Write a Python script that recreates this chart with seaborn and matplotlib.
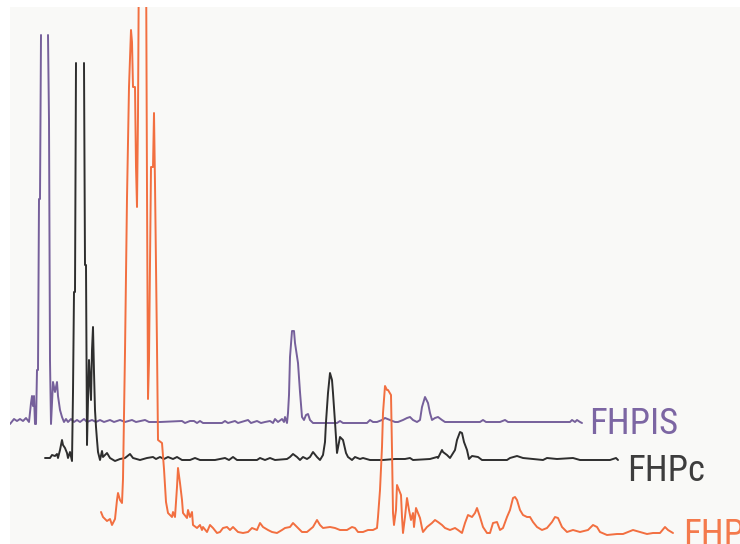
import numpy as np
import pandas as pd
import matplotlib
matplotlib.use("Agg")
import matplotlib.pyplot as plt
from matplotlib import font_manager as fm
import seaborn as sns

# ---- data: retention position and detector signal (NaN marks an off-scale gap) ----
fhpis_time = [10, 14, 17, 20, 23, 26, 29, 31, 32, 33, 34, 35, 36, 37, 38, 39, 40, 41, 45, 48, 49, 50, 51,
              53, 55, 57, 58, 60, 62, 64, 66, 68, 71, 74, 77, 80, 84, 87, 92, 96, 100, 104, 110, 114, 120,
              125, 132, 136, 145, 149, 160, 182, 185, 190, 194, 197, 200, 203, 222, 225, 228, 235, 238,
              248, 251, 257, 261, 265, 270, 273, 275, 278, 282, 284, 285, 287, 288, 289, 290, 292, 294,
              295, 298, 300, 302, 304, 306, 308, 310, 313, 337, 340, 343, 367, 370, 373, 377, 382, 385,
              390, 395, 398, 403, 407, 410, 413, 417, 420, 422, 425, 428, 430, 432, 435, 438, 442, 445,
              460, 470, 480, 483, 486, 500, 505, 508, 520, 540, 570, 572, 575, 577, 580, 582]
fhpis_signal = [-2, 3, 1, 3, 1, 4, 0, 19, 26, 16, 26, -2, -2, 52, 52, 223, 223, 387, np.nan, 387, 302, 61, -2,
                40, 30, 40, 26, 12, 5, 0, 3, 0, 3, 0, 2, 0, 3, 0, 2, 0, 2, 0, 2, 0, 2,
                0, 2, 0, 2, 0, 0, 1, -1, 1, 1, -1, 1, -1, -1, 1, -1, 1, -1,
                2, -1, 1, -1, 0, 1, -1, 3, 0, 3, 0, 5, -1, 9, 27, 65, 91, 91,
                79, 59, 30, 5, 2, 7, 8, 2, -1, -1, 1, -1, -1, 2, 0, 0, 2, 4,
                2, 0, 0, 2, 4, 5, 2, 0, 2, 15, 25, 19, 9, 2, 4, 5, 2, 0,
                0, 0, 0, 2, 0, 0, 2, 0, 0, 0, 0, 2, 0, 2, 0, -1]

fhpc_time = [45, 50, 52, 55, 57, 58, 60, 62, 63, 65, 67, 68, 70, 72, 73, 74, 75, 76, 80, 84, 85, 86, 87,
             88, 89, 90, 91, 92, 93, 94, 95, 96, 97, 98, 100, 102, 103, 107, 110, 115, 120, 125, 130,
             133, 140, 147, 153, 156, 160, 164, 168, 173, 177, 182, 190, 195, 200, 215, 225, 229, 233,
             237, 257, 260, 265, 270, 275, 287, 290, 293, 297, 300, 303, 307, 310, 313, 317, 320, 323,
             325, 326, 328, 330, 332, 333, 335, 337, 340, 343, 346, 348, 352, 355, 360, 363, 370, 383,
             395, 405, 410, 413, 430, 437, 438, 442, 443, 447, 450, 455, 457, 460, 462, 464, 467, 469,
             472, 478, 482, 507, 510, 517, 523, 543, 547, 557, 573, 580, 610, 616, 618]
fhpc_signal = [1, 1, 4, 3, 5, 1, 9, 19, 14, 11, 6, 1, 7, -2, 67, 167, 167, 396, np.nan, 396, 194, 194, 14,
               59, 99, 79, 59, 109, 132, 87, 49, 32, 19, 7, -1, 8, 2, 6, 1, -2, 0, 1, 5,
               1, -1, 1, 2, 0, 2, 0, 2, 0, 2, -1, -1, 1, -1, -1, 1, -1, 2,
               -1, -1, 1, -1, 1, -1, 0, 2, 5, 2, -1, 2, 0, 2, 7, 2, -1, 4,
               17, 37, 66, 86, 79, 66, 37, 6, 22, 19, 6, 2, -1, 2, 0, 1, -1, -1,
               0, 0, 1, -1, 0, 2, 1, 9, 7, 4, 1, 9, 19, 27, 26, 17, 9, 0,
               3, 2, -1, -1, 1, 3, 1, -1, 1, 0, 1, -1, -1, 1, -1]

fhp_time = [101, 103, 107, 110, 112, 115, 117, 118, 120, 122, 123, 125, 127, 129, 131, 132, 133, 135, 136,
            137, 138, 139, 146, 147, 148, 149, 151, 153, 154, 155, 157, 158, 162, 164, 166, 168, 172,
            173, 175, 177, 178, 180, 182, 183, 187, 188, 190, 192, 193, 197, 200, 202, 203, 207, 210,
            213, 217, 220, 223, 227, 230, 233, 236, 238, 243, 248, 252, 257, 260, 263, 268, 272, 277,
            282, 285, 290, 293, 297, 302, 307, 313, 317, 320, 323, 330, 335, 340, 347, 352, 355, 358,
            363, 368, 373, 377, 378, 380, 382, 383, 385, 387, 388, 391, 392, 393, 394, 396, 397, 399,
            401, 402, 403, 405, 407, 409, 411, 413, 414, 416, 418, 420, 422, 423, 427, 432, 435, 438,
            442, 445, 450, 455, 458, 462, 465, 468, 472, 475, 477, 480, 483, 487, 490, 493, 497, 500,
            503, 507, 510, 513, 515, 517, 520, 523, 527, 530, 533, 537, 542, 547, 552, 555, 558, 562,
            567, 573, 580, 588, 593, 597, 600, 607, 617, 623, 628, 633, 640, 647, 653, 660, 665, 668, 673]
fhp_signal = [16, 11, 7, 9, 3, 9, 28, 35, 28, 25, 49, 176, 330, 441, 498, 486, 441, 441, 361,
              321, 413, 588, 588, 339, 129, 167, 361, 361, 415, 344, 181, 88, 85, 59, 26, 15, 11,
              16, 11, 41, 60, 45, 28, 15, 10, 18, 11, 16, 3, 0, 3, -2, 1, -4, 3,
              0, -5, -4, 0, 1, -2, 1, -2, -4, -5, -4, 0, -2, 5, 1, -2, -4, -5,
              -2, 0, 1, 5, 1, -4, -4, 1, 8, 3, 0, 1, 0, -2, -2, 1, 0, -4,
              -4, -2, -2, 0, 11, 38, 81, 115, 142, 138, 138, 133, 78, 15, 3, 18, 43, 38,
              33, 11, -5, 11, 30, 18, 8, 15, 1, 20, 15, 10, 0, -4, 1, 5, 8, 6,
              3, 0, -2, 0, -2, -5, 5, 13, 11, 15, 20, 11, 1, -5, -5, 5, 6, -2,
              0, 11, 18, 30, 31, 28, 18, 13, 11, 11, 6, 1, -2, 0, 6, 11, 10, 1,
              -4, -2, -4, -2, 3, 1, -4, -7, -6, -6, -4, -2, -4, -6, -5, -5, 1, -2, -5]

trace_names = ["FHPIS", "FHPc", "FHP"]

# ---- styles / layout ----
colors = {"FHPIS": "#76609b", "FHPc": "#2e2e2e", "FHP": "#f26f40"}
label_colors = {"FHPIS": "#7c66a3", "FHPc": "#3d3d3d", "FHP": "#f47a4c"}
offsets = {"FHPIS": 122, "FHPc": 85, "FHP": 16}
label_pos = {"FHPIS": (589, 110), "FHPc": (627, 63), "FHP": (683, -1)}

frames = []
for name, t, s in [("FHPIS", fhpis_time, fhpis_signal),
                   ("FHPc", fhpc_time, fhpc_signal),
                   ("FHP", fhp_time, fhp_signal)]:
    d = pd.DataFrame({"time": t, "signal": s})
    d["segment"] = d["signal"].isna().cumsum()
    d = d.dropna()
    d["trace"] = name
    d["y"] = d["signal"] + offsets[name]
    d["unit"] = name + "_" + d["segment"].astype(str)
    frames.append(d)
df = pd.concat(frames, ignore_index=True)

sns.set_theme(style="white")

# pick a narrow sans face if one is installed (the labels use a condensed grotesque)
entries = fm.fontManager.ttflist
narrow_family = None
narrow_stretch = "normal"
for want in ["Liberation Sans Narrow", "Arial Narrow", "Roboto Condensed", "Open Sans Condensed",
             "DejaVu Sans Condensed", "Noto Sans Condensed"]:
    if any(e.name == want for e in entries):
        narrow_family = want
        break
if narrow_family is None:
    for fam in ["Liberation Sans", "Roboto", "Noto Sans", "DejaVu Sans", "Open Sans"]:
        cands = [e for e in entries if e.name == fam and e.weight in (400, "normal", "regular")
                 and str(e.stretch) in ("condensed", "semi-condensed", "75", "87.5", "extra-condensed")]
        if cands:
            narrow_family = fam
            narrow_stretch = cands[0].stretch
            break

plt.rcParams["font.family"] = ["Liberation Sans", "DejaVu Sans"]
if narrow_family is not None:
    label_font = fm.FontProperties(family=[narrow_family, "Liberation Sans"], stretch=narrow_stretch,
                                   size=26.5)
else:
    label_font = fm.FontProperties(family=["Liberation Sans", "DejaVu Sans"], size=24)

W, H = 740, 544
fig = plt.figure(figsize=(W / 100, H / 100), dpi=100)
fig.patch.set_facecolor("white")
ax = fig.add_axes([10 / W, 0, (W - 10) / W, (H - 7) / H])
ax.set_facecolor("#f9f9f7")

sns.lineplot(data=df, x="time", y="y", hue="trace", units="unit", estimator=None,
             sort=False, palette=colors, hue_order=trace_names, legend=False,
             linewidth=1.4, ax=ax)

ax.set_xlim(10, 740)
ax.set_ylim(0, H - 7)
ax.set_xticks([])
ax.set_yticks([])
ax.set_xlabel("")
ax.set_ylabel("")
for sp in ax.spines.values():
    sp.set_visible(False)

for name in trace_names:
    x, y = label_pos[name]
    ax.text(x, y, name, color=label_colors[name], fontproperties=label_font,
            ha="left", va="baseline", clip_on=False)

fig.savefig("out.png", dpi=100, facecolor="white")
